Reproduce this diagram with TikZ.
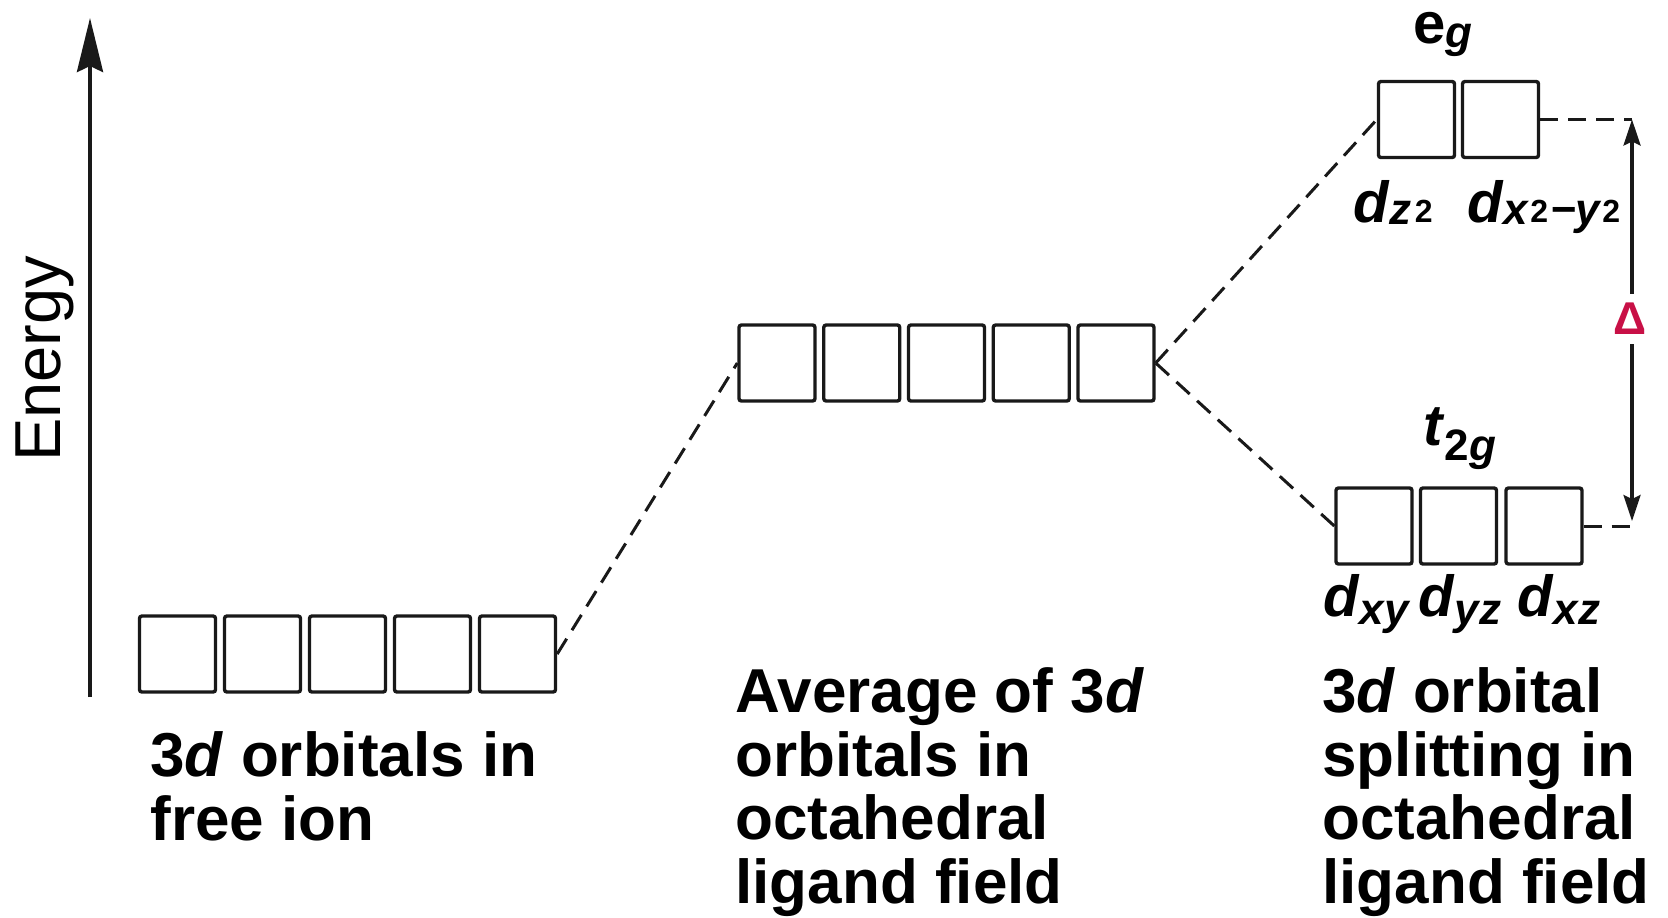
\documentclass[tikz,border=0pt]{standalone}
\usepackage{fontspec}
\setmainfont{Liberation Sans}
\usetikzlibrary{arrows.meta,calc}
\definecolor{deltared}{RGB}{200,16,70}
\definecolor{ink}{RGB}{25,25,25}
\newcommand{\lblfont}{\fontsize{31}{31.7}\selectfont\bfseries}
\newcommand{\orbfont}{\fontsize{29}{29}\selectfont\bfseries}
\newcommand{\mysub}[2][-2pt]{\raisebox{#1}{\fontsize{22}{22}\selectfont\bfseries\itshape #2}}
\newcommand{\mysup}[1]{\raisebox{1pt}{\fontsize{16}{16}\selectfont\bfseries\upshape #1}}
\begin{document}
\begin{tikzpicture}[x=0.5pt,y=-0.5pt,
  orb/.style={draw=ink, line width=1.7pt, rounded corners=1.2pt, minimum size=38pt, inner sep=0pt},
  conn/.style={draw=ink, line width=1.5pt, dash pattern=on 9pt off 5pt},
  lbl/.style={anchor=base west, inner sep=0pt, align=left, font=\lblfont},
  olbl/.style={anchor=base west, inner sep=0pt, font=\orbfont}]
\useasboundingbox (0,0) rectangle (1668,917);
% orbital boxes
\foreach \i in {1,...,5} {
  \node[orb] (f\i) at ({177.5+(\i-1)*85},654) {};
  \node[orb] (m\i) at ({777+(\i-1)*84.75},363) {};
}
\node[orb] (e1) at (1416.5,119.5) {};
\node[orb] (e2) at (1500.5,119.5) {};
\node[orb] (t1) at (1374,526) {};
\node[orb] (t2) at (1458.5,526) {};
\node[orb] (t3) at (1544,526) {};
% dashed connectors
\draw[conn] (f5.east) -- (m1.west);
\draw[conn] (m5.east) -- (e1.west);
\draw[conn] (m5.east) -- (t1.west);
\coordinate (dx) at (1632,0);
\coordinate (dtop) at (e2.east -| dx);
\coordinate (dbot) at (t3.east -| dx);
\draw[conn] (e2.east) -- (dtop);
\draw[conn] (t3.east) -- (dbot);
% splitting arrow
\draw[ink, line width=1.6pt, {Stealth[length=13pt,width=8.5pt,inset=2pt]}-{Stealth[length=13pt,width=8.5pt,inset=2pt]}, shorten >=2.5pt] (dtop) -- (dbot);
\node[fill=white, inner sep=0pt, minimum height=25pt, minimum width=14pt, text=deltared, font=\fontsize{23}{23}\selectfont\bfseries] (delta) at (1630,319) {Δ};
% energy axis
\coordinate (ebot) at (90,697);
\coordinate (etop) at (90,18);
\draw[ink, line width=2pt, -{Stealth[length=27pt,width=13pt,inset=3pt]}] (ebot) -- (etop);
\node[rotate=90, anchor=base, inner sep=0pt, font=\fontsize{32.5}{32.5}\selectfont] (energy) at (60,359) {Energy};
% orbital labels
\node[olbl] (leg) at (1413,43) {e\mysub[-2pt]{g}};
\node[olbl] (ldz) at (1353,222) {\textit{d}\mysub[-1pt]{z\kern1.5pt\mysup{2}}};
\node[olbl] (ldx) at (1467,222) {\textit{d}\mysub[-1pt]{x\kern1pt\mysup{2}\kern1pt−y\kern1pt\mysup{2}}};
\node[olbl] (lt) at (1423,445) {\textit{t}\mysub[-7.5pt]{\upshape 2\itshape g}};
\node[olbl] (ldxy) at (1323,616) {\textit{d}\mysub[-4pt]{xy}};
\node[olbl] (ldyz) at (1418,616) {\textit{d}\mysub[-4pt]{yz}};
\node[olbl] (ldxz) at (1517,616) {\textit{d}\mysub[-4pt]{xz}};
% captions (base anchor = last line's baseline)
\node[lbl] (lfree) at (150,840) {3\textit{d} orbitals in\\free ion};
\node[lbl] (lavg) at (735,903) {Average of 3\textit{d}\\orbitals in\\octahedral\\ligand field};
\node[lbl] (lsplit) at (1322,903) {3\textit{d} orbital\\splitting in\\octahedral\\ligand field};
\end{tikzpicture}
\end{document}
